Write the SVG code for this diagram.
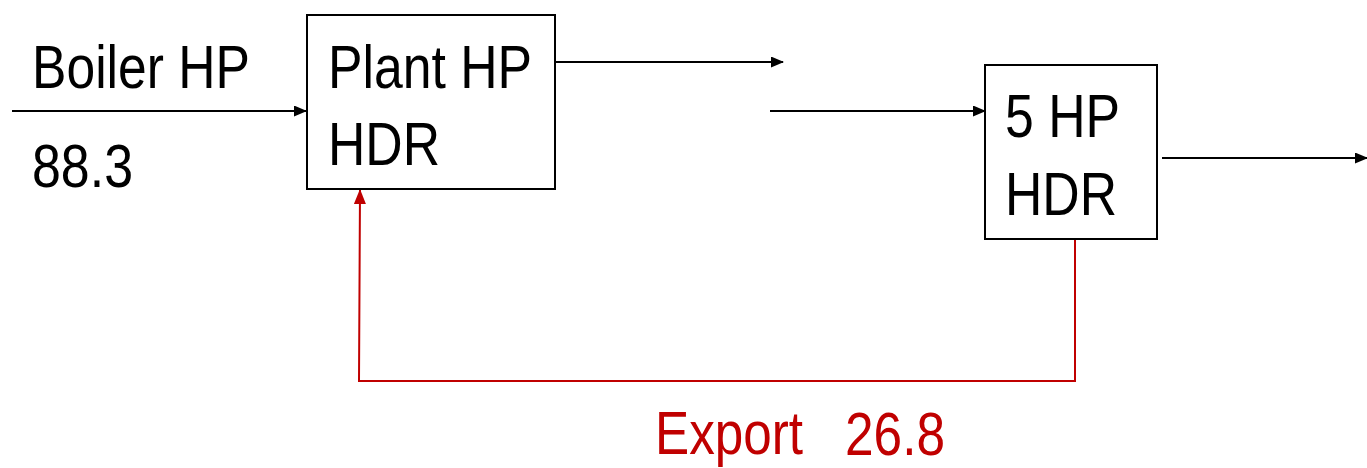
<svg xmlns="http://www.w3.org/2000/svg" width="1367" height="468" viewBox="0 0 1367 468">
<style>
.box{fill:#fff;stroke:#000;stroke-width:2}
.t{font-family:"Liberation Sans",Arial,sans-serif;font-size:62px;fill:#000}
.r{fill:#c00000}
.c{fill:none;stroke:#000;stroke-width:2}
.cr{fill:none;stroke:#c00000;stroke-width:2}
</style>
<defs>
<marker id="ah" markerWidth="13" markerHeight="11" refX="12" refY="5.5" orient="auto" markerUnits="userSpaceOnUse" viewBox="0 0 13 11"><path d="M0,0 L13,5.5 L0,11 Z" fill="#000"/></marker>
<marker id="ahr" markerWidth="15" markerHeight="12" refX="14" refY="6" orient="auto" markerUnits="userSpaceOnUse" viewBox="0 0 15 12"><path d="M0,0 L15,6 L0,12 Z" fill="#c00000"/></marker>
</defs>
<g id="connectors">
<line class="c" x1="12" y1="111" x2="306" y2="111" marker-end="url(#ah)"/>
<line class="c" x1="556" y1="62" x2="783" y2="62" marker-end="url(#ah)"/>
<line class="c" x1="770" y1="111" x2="985" y2="111" marker-end="url(#ah)"/>
<line class="c" x1="1162" y1="158" x2="1367" y2="158" marker-end="url(#ah)"/>
<polyline class="cr" points="1075,239 1075,381 359,381 360,190" marker-end="url(#ahr)"/>
</g>
<g id="boiler-label">
<text class="t" x="32" y="88" textLength="218" lengthAdjust="spacingAndGlyphs">Boiler HP</text>
<text class="t" x="32" y="187" textLength="101" lengthAdjust="spacingAndGlyphs">88.3</text>
</g>
<g id="plant-hp-hdr">
<rect class="box" x="307" y="15" width="248" height="174"/>
<text class="t" x="328" y="88" textLength="204" lengthAdjust="spacingAndGlyphs">Plant HP</text>
<text class="t" x="328" y="165" textLength="112" lengthAdjust="spacingAndGlyphs">HDR</text>
</g>
<g id="hp5-hdr">
<rect class="box" x="985" y="65" width="172" height="174"/>
<text class="t" x="1005" y="137" textLength="115" lengthAdjust="spacingAndGlyphs">5 HP</text>
<text class="t" x="1005" y="215" textLength="112" lengthAdjust="spacingAndGlyphs">HDR</text>
</g>
<g id="export-label">
<text class="t r" x="655" y="454" textLength="148" lengthAdjust="spacingAndGlyphs">Export</text>
<text class="t r" x="845" y="455" textLength="100" lengthAdjust="spacingAndGlyphs">26.8</text>
</g>
</svg>
